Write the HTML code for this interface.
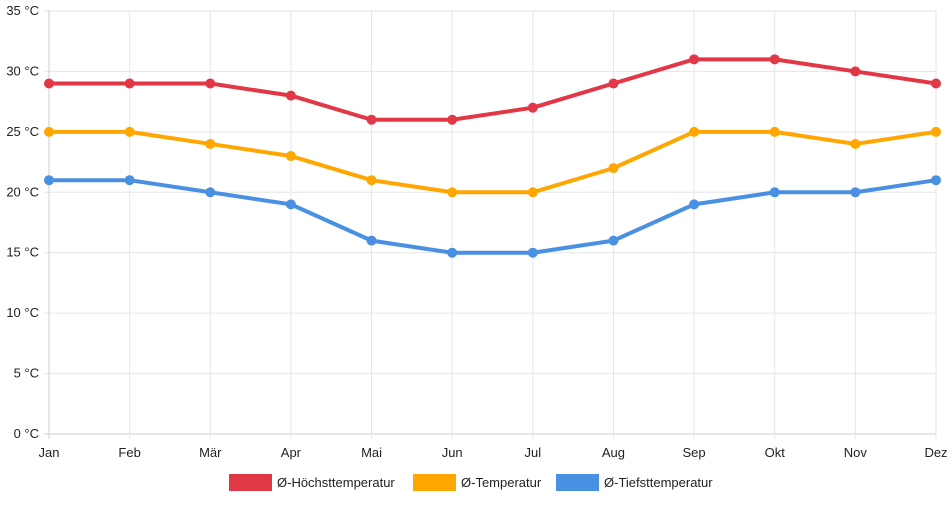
<!DOCTYPE html>
<html><head><meta charset="utf-8"><style>
body{margin:0;background:#fff;font-family:"Liberation Sans",sans-serif;}
svg text{font-family:"Liberation Sans",sans-serif;font-size:13px;fill:#222;}
</style></head><body>
<svg id="c" width="952" height="500"></svg>
<script>
const months=["Jan","Feb","Mär","Apr","Mai","Jun","Jul","Aug","Sep","Okt","Nov","Dez"];
const highs=[29,29,29,28,26,26,27,29,31,31,30,29];
const avgs=[25,25,24,23,21,20,20,22,25,25,24,25];
const lows=[21,21,20,19,16,15,15,16,19,20,20,21];
const yTicks=[0,5,10,15,20,25,30,35];
const seriesNames=["Ø-Höchsttemperatur","Ø-Temperatur","Ø-Tiefsttemperatur"];
const NS="http://www.w3.org/2000/svg";
const svg=document.getElementById('c');
const L=49,R=936,T=11,B=434;
const x=i=>L+i*(R-L)/(months.length-1);
const y=v=>B-(v/35)*(B-T);
function mk(t,a){const e=document.createElementNS(NS,t);for(const k in a)e.setAttribute(k,a[k]);svg.appendChild(e);return e;}
yTicks.forEach(v=>{
 const g=mk('line',{x1:44,x2:R,y1:y(v),y2:y(v),stroke:v===0?'#ccc':'#e6e6e6','stroke-width':1});
 
 
 const t=mk('text',{x:39,y:y(v)+4,'text-anchor':'end'});t.textContent=v+' °C';
 
 
});
months.forEach((m,i)=>{
 const g=mk('line',{x1:x(i),x2:x(i),y1:T,y2:B+5,stroke:i===0?'#ccc':'#e6e6e6','stroke-width':1});
 
 
 const t=mk('text',{x:x(i),y:B+23,'text-anchor':'middle'});t.textContent=m;
 
 
});
const colors=["#e23744","#ffa600","#4a90e2"];
[highs,avgs,lows].forEach((d,s)=>{
 const p=mk('polyline',{points:d.map((v,i)=>x(i)+','+y(v)).join(' '),fill:'none',stroke:colors[s],'stroke-width':4,'stroke-linejoin':'round'});
 
 
 d.forEach((v,i)=>{const c=mk('circle',{cx:x(i),cy:y(v),r:5,fill:colors[s]});
  
  });
});
const lx=[229,413,556];
seriesNames.forEach((n,s)=>{
 const r=mk('rect',{x:lx[s],y:474,width:43,height:17,fill:colors[s]});
 
 
 const t=mk('text',{x:lx[s]+48,y:487,'font-size':14});t.textContent=n;
 
 
});
</script>
</body></html>
